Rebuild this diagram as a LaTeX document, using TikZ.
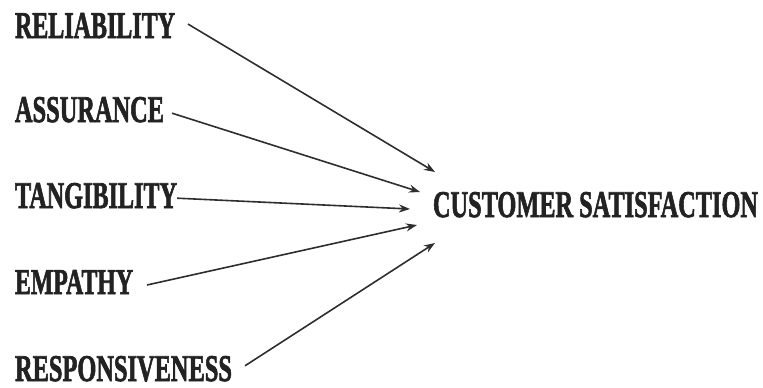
\documentclass[tikz,border=0pt]{standalone}
\usepackage{fontspec}
\setmainfont[BoldFeatures={FakeBold=2.2}]{Liberation Serif}
\usetikzlibrary{arrows.meta}
\definecolor{ink}{HTML}{222222}
\definecolor{wire}{HTML}{2E2E2E}
\tikzset{
  lbl/.style={inner sep=0pt, outer sep=0pt, anchor=north west, text=ink},
  link/.style={draw=wire, line width=1.6pt, -{Stealth[length=11pt,width=8pt]}}
}
% condensed bold caps, sized to an exact width and cap height
\newcommand{\capsbox}[3]{\resizebox{#1pt}{#2pt}{\bfseries #3}}
\begin{document}
\begin{tikzpicture}[x=1pt,y=-1pt]
  \useasboundingbox (0,0) rectangle (763,388);

  \node[lbl] (rel) at (15,13)  {\capsbox{160}{25}{RELIABILITY}};
  \node[lbl] (ass) at (15,97)  {\capsbox{149}{25}{ASSURANCE}};
  \node[lbl] (tan) at (15,183) {\capsbox{162}{25}{TANGIBILITY}};
  \node[lbl] (emp) at (15,270) {\capsbox{118}{24}{EMPATHY}};
  \node[lbl] (res) at (15,356) {\capsbox{217}{25}{RESPONSIVENESS}};
  \node[lbl] (cs)  at (433,192) {\capsbox{325}{25}{CUSTOMER SATISFACTION}};

  % arrow tips fanned in front of the outcome label
  \coordinate (t1) at (435,172);
  \coordinate (t2) at (420,192);
  \coordinate (t3) at (410,209);
  \coordinate (t4) at (417,225);
  \coordinate (t5) at (435,243);

  \draw[link] ([xshift=13pt,yshift=1.5pt]rel.east) -- (t1);
  \draw[link] ([xshift=8pt,yshift=-3.5pt]ass.east) -- (t2);
  \draw[link] ([xshift=0pt,yshift=-2.5pt]tan.east) -- (t3);
  \draw[link] ([xshift=14pt,yshift=-3pt]emp.east) -- (t4);
  \draw[link] ([xshift=13pt,yshift=3pt]res.east) -- (t5);
\end{tikzpicture}
\end{document}
